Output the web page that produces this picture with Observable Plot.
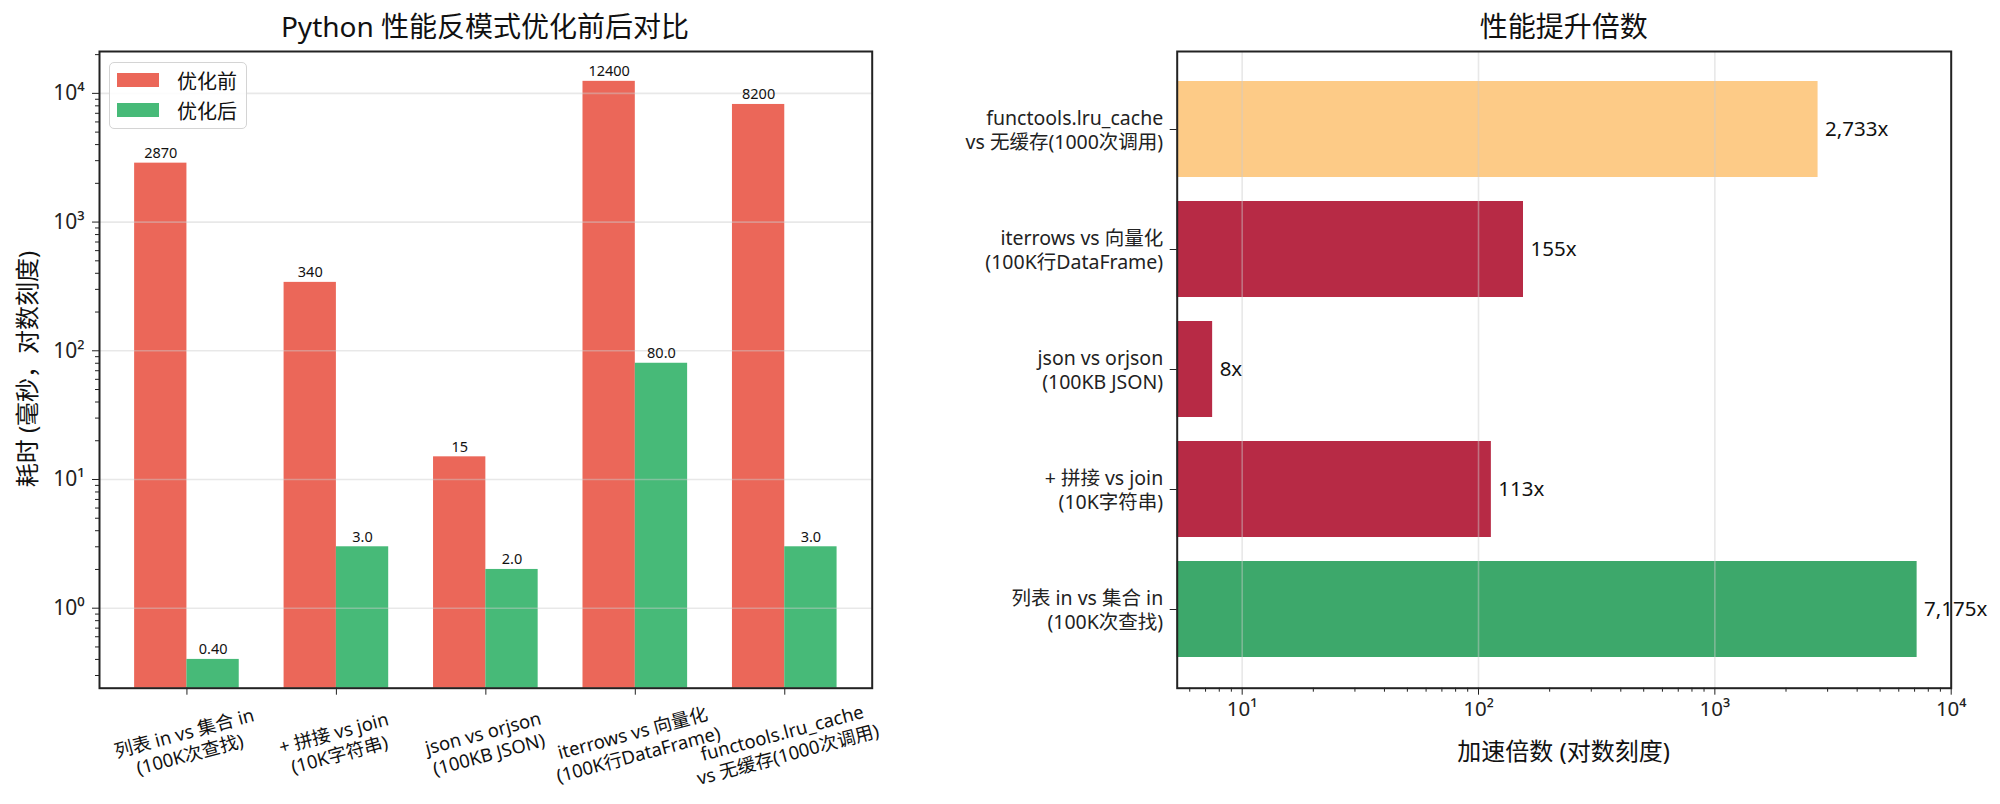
<!DOCTYPE html>
<html><head><meta charset="utf-8">
<script src="https://cdn.jsdelivr.net/npm/d3@7"></script>
<script src="https://cdn.jsdelivr.net/npm/@observablehq/plot@0.6"></script>
<style>
html,body{margin:0;padding:0;background:#fff;}
#root{position:relative;width:2000px;height:804px;font-family:'Noto Sans','Noto Sans CJK SC',sans-serif;color:#111;overflow:hidden;}
.c{position:absolute;transform:translate(-50%,-50%);white-space:nowrap;}
.p{position:absolute;left:0;top:0;}
</style></head><body><div id="root"></div>
<script>
// ---- data ----
const categories = [
  "列表 in vs 集合 in\n(100K次查找)",
  "+ 拼接 vs join\n(10K字符串)",
  "json vs orjson\n(100KB JSON)",
  "iterrows vs 向量化\n(100K行DataFrame)",
  "functools.lru_cache\nvs 无缓存(1000次调用)"
];
const before = [2870, 340, 15, 12400, 8200];   // 优化前 (ms)
const after  = [0.4, 3, 2, 80, 3];             // 优化后 (ms)
const seriesNames = ["优化前", "优化后"];
const seriesColors = ["#e74c3c", "#27ae60"];
const speedupColors = ["#3da86b", "#b72a45", "#b72a45", "#b72a45", "#fdcb87"];
const leftMajorTicks = [1, 10, 100, 1000, 10000];
const rightMajorTicks = [10, 100, 1000, 10000];
const leftDomain = [0.239, 21150];
const rightDomain = [5.31, 10000];
const titleLeft = "Python 性能反模式优化前后对比";
const titleRight = "性能提升倍数";
const yLabelLeft = "耗时 (毫秒，对数刻度)";
const xLabelRight = "加速倍数 (对数刻度)";
const barWidth = 0.35; // width of each grouped bar, in category units

// ---- derived tables ----
const rows = categories.flatMap((c, i) => [
  {idx: i, series: seriesNames[0], value: before[i], x1: i - barWidth, x2: i},
  {idx: i, series: seriesNames[1], value: after[i], x1: i, x2: i + barWidth}
]);
const speed = categories.map((c, i) => ({cat: c, speedup: before[i] / after[i], color: speedupColors[i]}));

const sup = {"0":"⁰","1":"¹","2":"²","3":"³","4":"⁴","5":"⁵","-":"⁻"};
const pow10 = v => "10" + String(Math.round(Math.log10(v))).split("").map(ch => sup[ch]).join("");
const isDecade = v => Math.abs(Math.log10(v) - Math.round(Math.log10(v))) < 1e-9;
const leftMinor = d3.scaleLog().domain(leftDomain).ticks().filter(v => !isDecade(v));
const rightMinor = d3.scaleLog().domain(rightDomain).ticks().filter(v => !isDecade(v));
const fmtVal = d => d.series === seriesNames[0] ? d.value.toFixed(0) : (d.value < 1 ? d.value.toFixed(2) : d.value.toFixed(1));
const n = categories.length;
const xMargin = 0.585;

const FONT = "'Noto Sans', 'Noto Sans CJK SC', sans-serif";
const root = document.getElementById("root");

// ---- left chart ----
const left = Plot.plot({
  width: 1000, height: 804,
  marginLeft: 99, marginRight: 128.3, marginTop: 51, marginBottom: 116.3,
  style: {fontFamily: FONT, fontSize: "20px", background: "transparent", overflow: "visible", color: "#222"},
  x: {type: "linear", domain: [-xMargin, n - 1 + xMargin], axis: null},
  y: {type: "log", domain: leftDomain, axis: null},
  color: {domain: seriesNames, range: seriesColors},
  marks: [
    Plot.rectY(rows, {x1: "x1", x2: "x2", y1: leftDomain[0], y2: "value", fill: "series", fillOpacity: 0.85}),
    Plot.gridY(leftMajorTicks, {stroke: "#cccccc", strokeOpacity: 0.45, strokeWidth: 1.6}),
    Plot.text(rows, {x: d => (d.x1 + d.x2) / 2, y: "value", text: fmtVal, lineAnchor: "bottom", dy: -5, fontSize: 14.5, fill: "#111"}),
    Plot.axisY({ticks: leftMajorTicks, tickFormat: pow10, tickSize: 7, tickPadding: 8, fontSize: 21, label: null}),
    Plot.axisY({ticks: leftMinor, tickFormat: () => "", tickSize: 4, label: null}),
    Plot.axisX({ticks: d3.range(n), tickFormat: () => "", tickSize: 7, label: null}),
    Plot.text(categories, {x: (d, i) => i, text: d => d, frameAnchor: "bottom", dy: 55, rotate: -15,
      textAnchor: "middle", lineAnchor: "middle", fontSize: 18.5, lineHeight: 1.2, fill: "#111"}),
    Plot.frame({stroke: "#222", strokeWidth: 2})
  ]
});
left.classList.add("p");
left.style.left = "0px";
root.appendChild(left);

// ---- right chart ----
const right = Plot.plot({
  width: 1000, height: 804,
  marginLeft: 176.7, marginRight: 49.3, marginTop: 51, marginBottom: 116.3,
  style: {fontFamily: FONT, fontSize: "18px", background: "transparent", overflow: "visible", color: "#222"},
  x: {type: "log", domain: rightDomain, axis: null},
  y: {domain: categories.slice().reverse(), paddingInner: 0.2, paddingOuter: 0.24, axis: null},
  color: {type: "identity"},
  marks: [
    Plot.barX(speed, {y: "cat", x1: rightDomain[0], x2: "speedup", fill: "color"}),
    Plot.gridX(rightMajorTicks, {stroke: "#cccccc", strokeOpacity: 0.45, strokeWidth: 1.6}),
    Plot.text(speed, {y: "cat", x: "speedup", text: d => d3.format(",.0f")(d.speedup) + "x", dx: 7, textAnchor: "start", fontSize: 20.5, fill: "#111"}),
    Plot.axisX({ticks: rightMajorTicks, tickFormat: pow10, tickSize: 7, tickPadding: 6, fontSize: 20.5, label: null}),
    Plot.axisX({ticks: rightMinor, tickFormat: () => "", tickSize: 4, label: null}),
    Plot.axisY({tickSize: 7, tickPadding: 7, fontSize: 19.5, lineHeight: 1.22, label: null}),
    Plot.frame({stroke: "#222", strokeWidth: 2})
  ]
});
right.classList.add("p");
right.style.left = "1000px";
root.appendChild(right);

// ---- titles, axis labels, legend ----
function addText(txt, x, y, size, extra) {
  const d = document.createElement("div");
  d.className = "c";
  d.textContent = txt;
  d.style.left = x + "px"; d.style.top = y + "px"; d.style.fontSize = size + "px";
  if (extra) d.style.transform = "translate(-50%,-50%) " + extra;
  root.appendChild(d);
  return d;
}
addText(titleLeft, 485, 25, 28);
addText(titleRight, 1563.7, 25, 28);
addText(yLabelLeft, 25, 369, 24, "rotate(-90deg)");
addText(xLabelRight, 1563.7, 749, 24);

const leg = document.createElement("div");
leg.style.cssText = "position:absolute;left:109px;top:62px;width:138px;height:67px;box-sizing:border-box;border:1.5px solid #d4d4d4;border-radius:5px;background:rgba(255,255,255,0.85);";
root.appendChild(leg);
seriesNames.forEach((name, i) => {
  const sw = document.createElement("div");
  sw.style.cssText = `position:absolute;left:117px;top:${73 + i * 30}px;width:42px;height:14px;background:${seriesColors[i]};opacity:0.85;`;
  root.appendChild(sw);
  const t = document.createElement("div");
  t.style.cssText = `position:absolute;left:177px;top:${80 + i * 30}px;transform:translateY(-50%);font-size:20px;white-space:nowrap;`;
  t.textContent = name;
  root.appendChild(t);
});
</script>
</body></html>
